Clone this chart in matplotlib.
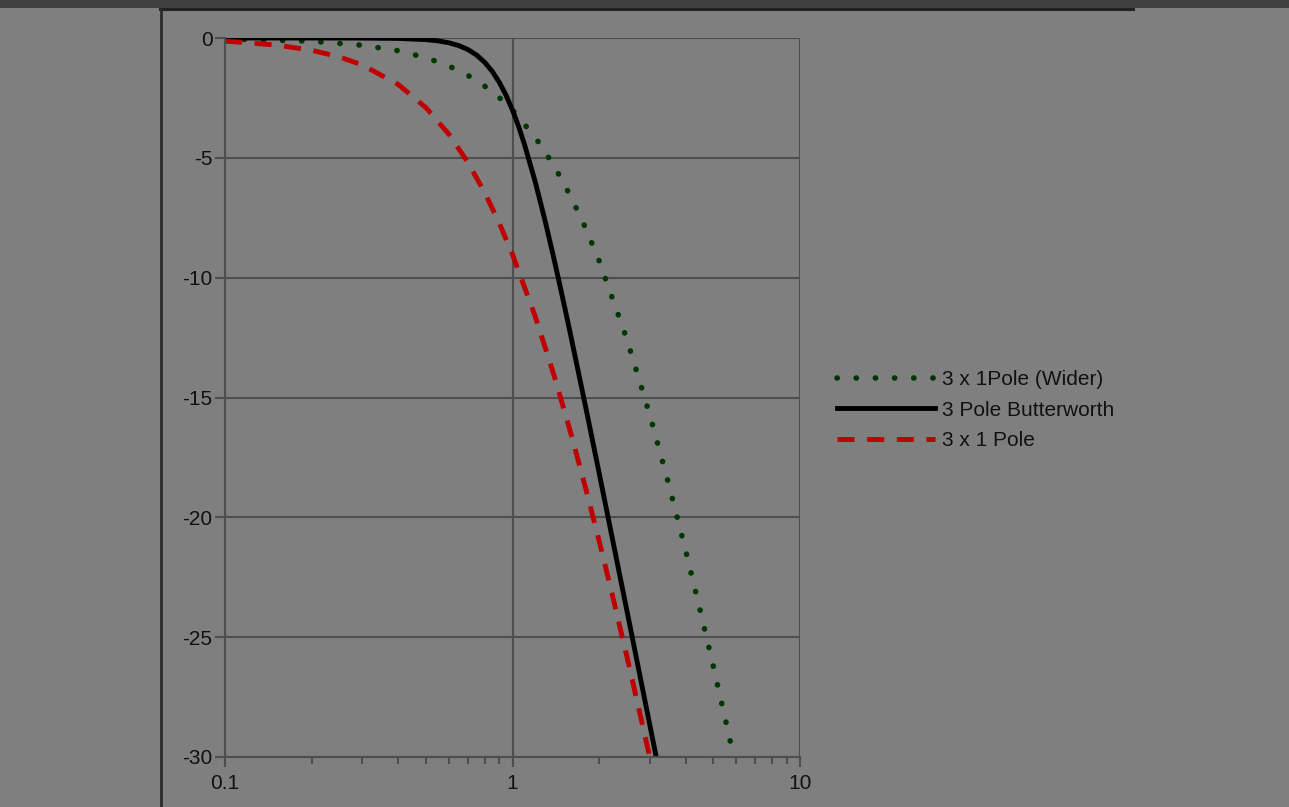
"""Frequency response of a 3-pole Butterworth vs. cascaded single-pole filters."""

import matplotlib

matplotlib.use("Agg")
import matplotlib.pyplot as plt
from matplotlib.lines import Line2D
from matplotlib.patches import Rectangle

# normalised frequency (f / fc) and gain in dB for each response
WIDER_FREQ = [0.1, 0.2, 0.3, 0.4, 0.5, 0.6, 0.7, 0.8, 0.9, 1.0, 1.2, 1.4, 1.6, 1.8,
              2.0, 2.5, 3.0, 3.5, 4.0, 4.5, 5.0, 5.5, 6.0]
WIDER_DB = [-0.034, -0.135, -0.301, -0.531, -0.820, -1.165, -1.562, -2.005, -2.489,
            -3.010, -4.142, -5.365, -6.646, -7.960, -9.287, -12.571, -15.710,
            -18.648, -21.376, -23.904, -26.248, -28.427, -30.457]

BUTTER_FREQ = [0.1, 0.2, 0.3, 0.4, 0.5, 0.55, 0.6, 0.65, 0.7, 0.75, 0.8, 0.85, 0.9,
               0.95, 1.0, 1.05, 1.1, 1.2, 1.3, 1.4, 1.5, 1.6, 1.8, 2.0, 2.5, 3.0, 3.2]
BUTTER_DB = [0.0, -0.0003, -0.003, -0.018, -0.067, -0.119, -0.198, -0.316, -0.483,
             -0.711, -1.011, -1.390, -1.851, -2.393, -3.010, -3.692, -4.427, -6.005,
             -7.654, -9.309, -10.931, -12.499, -15.442, -18.129, -23.894, -28.633,
             -30.31]

POLE_FREQ = [0.1, 0.15, 0.2, 0.25, 0.3, 0.4, 0.5, 0.6, 0.7, 0.8, 0.9, 1.0, 1.2, 1.4,
             1.6, 1.8, 2.0, 2.2, 2.5, 2.8, 3.0]
POLE_DB = [-0.130, -0.290, -0.511, -0.790, -1.123, -1.934, -2.907, -4.006, -5.196,
           -6.445, -7.730, -9.031, -11.622, -14.139, -16.544, -18.821, -20.969,
           -22.992, -25.810, -28.394, -30.0]

LABELS = ["3 x 1Pole (Wider)", "3 Pole Butterworth", "3 x 1 Pole"]
Y_TICKS = [0, -5, -10, -15, -20, -25, -30]
X_TICKS = [0.1, 1, 10]
X_TICK_LABELS = ["0.1", "1", "10"]

BG = "#7f7f7f"
INK = "#111111"
GRID = "#4e4e4e"

plt.rcParams["font.family"] = ["Liberation Sans", "DejaVu Sans"]

fig = plt.figure(figsize=(12.89, 8.07), dpi=100, facecolor=BG)

# window chrome: dark strip along the top and a frame edge on the left
fig.patches.append(Rectangle((0, 1 - 8 / 807), 1, 8 / 807, transform=fig.transFigure,
                             facecolor="#404040", edgecolor="none"))
fig.add_artist(Line2D([160 / 1289, 1133 / 1289], [1 - 9 / 807, 1 - 9 / 807],
                      transform=fig.transFigure, color="#222222", lw=2.2))
fig.add_artist(Line2D([161 / 1289, 161 / 1289], [0, 1 - 9 / 807],
                      transform=fig.transFigure, color="#2a2a2a", lw=2.0))

ax = fig.add_axes([225 / 1289, 1 - 757 / 807, 575 / 1289, 719 / 807])
ax.set_facecolor(BG)

ax.plot(WIDER_FREQ, WIDER_DB, color="#003600", lw=4.0, linestyle=(0, (0.05, 3.4)),
        dash_capstyle="round", label=LABELS[0])
ax.plot(BUTTER_FREQ, BUTTER_DB, color="#000000", lw=3.5, label=LABELS[1])
ax.plot(POLE_FREQ, POLE_DB, color="#c00000", lw=3.5, linestyle=(0, (3.5, 2.6)),
        label=LABELS[2])

ax.set_xscale("log")
ax.set_xlim(0.1, 10)
ax.set_ylim(-30, 0)
ax.set_xticks(X_TICKS)
ax.set_xticklabels(X_TICK_LABELS)
ax.set_yticks(Y_TICKS)
ax.set_yticklabels([str(v) for v in Y_TICKS])

ax.grid(True, which="major", color=GRID, lw=1.5)
ax.set_axisbelow(True)
for side in ["left", "bottom"]:
    ax.spines[side].set_color(GRID)
    ax.spines[side].set_linewidth(1.5)
for side in ["top", "right"]:
    ax.spines[side].set_visible(False)

ax.tick_params(axis="both", which="major", direction="out", color=GRID, width=1.5,
               length=7, labelsize=15, labelcolor=INK, pad=2)
ax.tick_params(axis="x", which="minor", direction="out", color=GRID, width=1.5,
               length=5)
ax.tick_params(axis="x", which="major", pad=5)

leg = ax.legend(loc="center left", bbox_to_anchor=(829 / 1289, 1 - 410 / 807),
                bbox_transform=fig.transFigure, frameon=False, fontsize=15,
                handlelength=4.7, handletextpad=0.3, labelspacing=0.56,
                borderaxespad=0)
for text in leg.get_texts():
    text.set_color(INK)

fig.savefig("out.png", dpi=100, facecolor=BG)
